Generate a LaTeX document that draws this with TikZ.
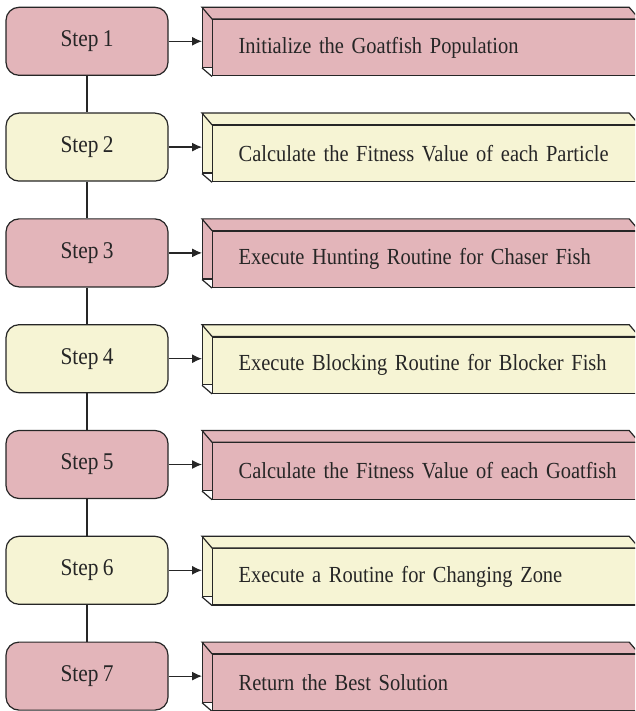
\documentclass[tikz,border=0pt]{standalone}
\usepackage{fontspec}
\setmainfont{Liberation Serif}[FakeStretch=0.89, WordSpace=0.8]
\usetikzlibrary{arrows.meta}

\definecolor{stepred}{RGB}{227,181,186}
\definecolor{stepyellow}{RGB}{246,244,212}
\definecolor{edgegray}{RGB}{38,38,38}

\tikzset{
	stepbox/.style={draw, rounded corners=13pt, minimum width=162pt, minimum height=68pt,
		inner sep=0pt, font=\fontsize{24}{26}\selectfont},
	backbox/.style={draw, anchor=north west, minimum width=426pt, minimum height=59.4pt, inner sep=0pt},
	taskbox/.style={draw, anchor=north west, minimum height=56.3pt, inner sep=0pt,
		text width=426pt, align=left, execute at begin node={\hspace*{26pt}},
		font=\fontsize{23}{26}\selectfont},
}

\begin{document}
\begin{tikzpicture}[x=1pt, y=1pt, line width=1.2pt, color=edgegray]
	\def \pitch{105.8}
	\def \firsttop{7.3}
	\def \depthx{10}
	\def \depthy{11.7}

	\path[use as bounding box, clip] (0,0) rectangle (635,-711);

	% Steps and their tasks
	\foreach \i/\fillc/\txt in {1/stepred/Initialize the Goatfish Population,
		2/stepyellow/Calculate the Fitness Value of each Particle,
		3/stepred/Execute Hunting Routine for Chaser Fish,
		4/stepyellow/Execute Blocking Routine for Blocker Fish,
		5/stepred/Calculate the Fitness Value of each Goatfish,
		6/stepyellow/Execute a Routine for Changing Zone,
		7/stepred/Return the Best Solution} {
		\pgfmathsetmacro \rowtop{\firsttop + (\i-1)*\pitch}
		\node[stepbox, fill=\fillc] (step\i) at (87, -\rowtop-34) {Step \i};
		\node[backbox, fill=\fillc] (back\i) at (202, -\rowtop) {};
		\node[taskbox, fill=\fillc] (task\i) at (202+\depthx, -\rowtop-\depthy) {\txt};
		\filldraw[fill=\fillc] (back\i.north west) -- (back\i.north east)
			-- (task\i.north east) -- (task\i.north west) -- cycle;
		\draw (back\i.south west) -- (task\i.south west);
		\draw[-{Latex[length=10pt, width=9pt]}] (step\i.east) -- (step\i.east -| back\i.west);
	}

	% Connectors between steps
	\foreach \i [evaluate=\i as \j using int(\i+1)] in {1,...,6}
		\draw (step\i.south) -- (step\j.north);
\end{tikzpicture}
\end{document}
